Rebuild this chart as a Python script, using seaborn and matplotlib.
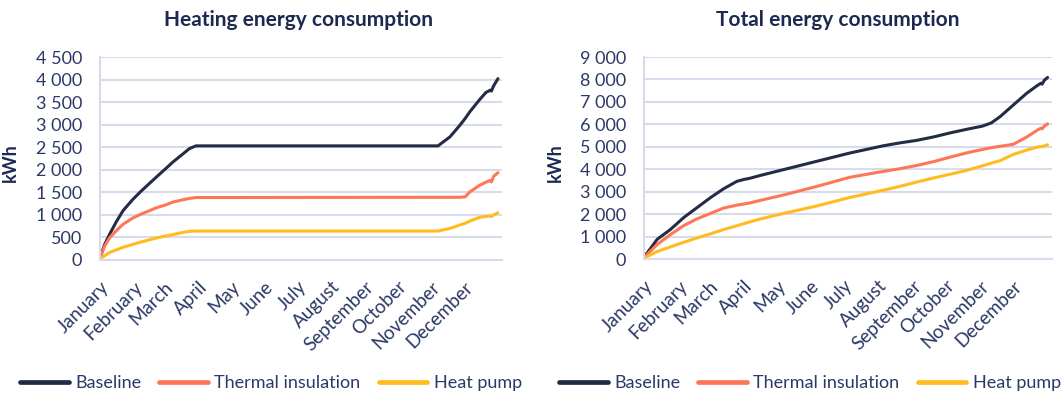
import matplotlib
matplotlib.use("Agg")
import matplotlib.pyplot as plt
from matplotlib.lines import Line2D
import pandas as pd
import seaborn as sns

# ---- data -------------------------------------------------------------
month_labels = ["January", "February", "March", "April", "May", "June", "July",
                "August", "September", "October", "November", "December"]
month_start_days = [0, 31, 59, 90, 120, 151, 181, 212, 243, 273, 304, 334]

series_names = ["Baseline", "Thermal insulation", "Heat pump"]

# cumulative heating energy (kWh) by day of year
heat_days = [0, 4, 9, 15, 21, 30, 37, 45, 52, 60, 67, 75, 82, 88,
             310, 321, 330, 335, 339, 348, 354, 358, 359, 361, 365]
heat_baseline = [50, 330, 580, 850, 1090, 1340, 1510, 1690, 1845, 2020, 2175, 2330, 2470, 2530,
                 2530, 2730, 2985, 3140, 3280, 3550, 3715, 3765, 3745, 3860, 4020]
heat_insulation = [40, 300, 500, 650, 790, 930, 1010, 1090, 1160, 1220, 1285, 1330, 1365, 1385,
                   1390, 1390, 1390, 1400, 1505, 1655, 1725, 1765, 1730, 1855, 1935]
heat_pump = [30, 90, 170, 225, 280, 345, 395, 445, 490, 530, 565, 605, 635, 642,
             642, 700, 775, 815, 860, 945, 965, 975, 962, 1000, 1047]

# cumulative total energy (kWh) by day of year
total_days = [0, 6, 12, 24, 36, 48, 60, 72, 84, 90, 96, 105, 126, 156, 186, 216, 231,
              246, 262, 277, 292, 306, 314, 322, 334, 346, 356, 359, 360, 362, 365]
total_baseline = [80, 480, 880, 1320, 1850, 2290, 2730, 3130, 3460, 3540, 3600, 3720, 3980,
                  4350, 4720, 5040, 5170, 5280, 5440, 5620, 5780, 5920, 6060, 6340, 6860,
                  7380, 7740, 7830, 7790, 7960, 8090]
total_insulation = [60, 360, 650, 1090, 1490, 1790, 2030, 2270, 2400, 2450, 2500, 2610, 2850,
                    3230, 3640, 3900, 4020, 4160, 4340, 4540, 4730, 4880, 4960, 5020, 5110,
                    5430, 5750, 5830, 5800, 5920, 6020]
total_pump = [30, 190, 340, 540, 745, 940, 1120, 1310, 1480, 1570, 1660, 1780, 2030, 2360,
              2740, 3060, 3230, 3420, 3610, 3780, 3950, 4150, 4270, 4380, 4660, 4850, 4990,
              5010, 5000, 5040, 5090]

# ---- styling ------------------------------------------------------------
palette = {"Baseline": "#242B45", "Thermal insulation": "#FF7657", "Heat pump": "#FFBB1F"}
grid_color = "#D8DBEB"
tick_color = "#2B3966"
title_color = "#1C2A52"

sns.set_theme(style="white")
plt.rcParams["font.family"] = ["Lato", "DejaVu Sans"]

fig = plt.figure(figsize=(10.62, 3.98), dpi=100)
W, H = 1062, 398


def long_frame(days, cols):
    parts = []
    for name, vals in zip(series_names, cols):
        parts.append(pd.DataFrame({"day": days, "kWh": vals, "Scenario": name}))
    return pd.concat(parts, ignore_index=True)


def fmt(v):
    return f"{int(v):,}".replace(",", " ")


panels = [
    dict(rect=(100, 57, 502, 260), title="Heating energy consumption", title_x=298,
         days=heat_days, cols=[heat_baseline, heat_insulation, heat_pump],
         ymax=4500, ystep=500, xmax=368.7, ylab_x=19, legend_x=271),
    dict(rect=(644, 57, 1052, 259), title="Total energy consumption", title_x=838,
         days=total_days, cols=[total_baseline, total_insulation, total_pump],
         ymax=9000, ystep=1000, xmax=369.0, ylab_x=564, legend_x=810),
]

for p in panels:
    x0, y0, x1, y1 = p["rect"]
    ax = fig.add_axes([x0 / W, 1 - y1 / H, (x1 - x0) / W, (y1 - y0) / H])
    df = long_frame(p["days"], p["cols"])
    sns.lineplot(data=df, x="day", y="kWh", hue="Scenario", hue_order=series_names,
                 palette=palette, linewidth=2.2, ax=ax, legend=False)

    ax.set_xlim(0, p["xmax"])
    ax.set_ylim(0, p["ymax"])
    yt = list(range(0, p["ymax"] + 1, p["ystep"]))
    ax.set_yticks(yt)
    ax.set_yticklabels([fmt(v) for v in yt])
    ax.set_xticks(month_start_days)
    ax.set_xticklabels(month_labels, rotation=45, ha="right", rotation_mode="anchor")

    ax.yaxis.grid(True, color=grid_color, linewidth=1.5)
    ax.xaxis.grid(False)
    ax.set_axisbelow(True)
    for side in ("top", "right"):
        ax.spines[side].set_visible(False)
    for side in ("left", "bottom"):
        ax.spines[side].set_color(grid_color)
        ax.spines[side].set_linewidth(1.5)

    ax.tick_params(axis="y", length=0, pad=13, labelsize=13, labelcolor=tick_color)
    ax.tick_params(axis="x", length=0, pad=13, labelsize=13.5, labelcolor=tick_color)

    ax.set_xlabel("")
    ax.set_ylabel("kWh", fontsize=13, fontweight="bold", color=title_color)
    ax.yaxis.set_label_coords((p["ylab_x"] - x0) / (x1 - x0), (y1 - 163) / (y1 - y0))

    fig.text(p["title_x"] / W, 1 - 20 / H, p["title"], ha="center", va="center",
             fontsize=15, fontweight="bold", color=title_color)

    handles = [Line2D([0], [0], color=palette[n], linewidth=3.4) for n in series_names]
    leg = ax.legend(handles, series_names, loc="center",
                    bbox_to_anchor=(p["legend_x"] / W, 1 - 383 / H),
                    bbox_transform=fig.transFigure, ncol=3, frameon=False,
                    fontsize=13, handlelength=2.7, handletextpad=0.35, columnspacing=1.0)
    for t in leg.get_texts():
        t.set_color(tick_color)

fig.savefig("out.png", dpi=100)
